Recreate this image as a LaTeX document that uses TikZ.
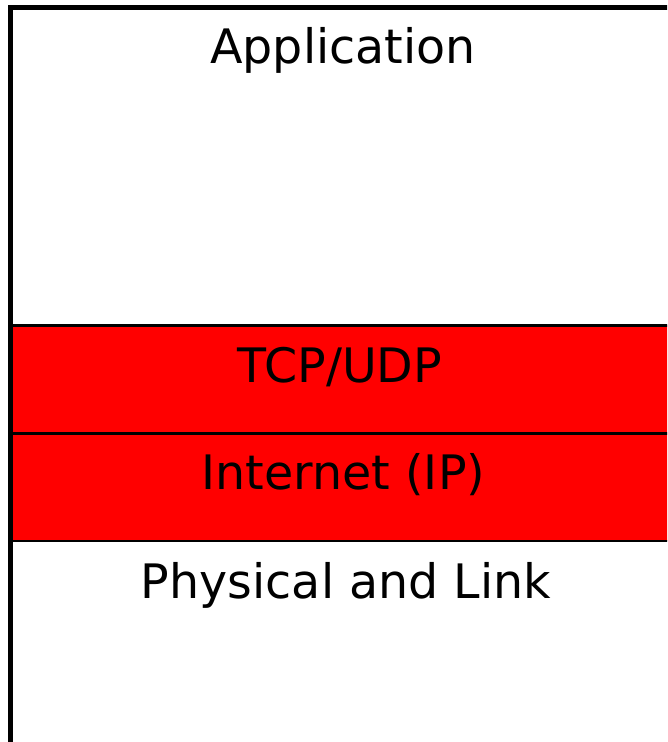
\documentclass[tikz,border=0pt]{standalone}
\usepackage{fontspec}
\setmainfont{DejaVu Sans}
\begin{document}
\begin{tikzpicture}[x=1pt,y=-1pt,
  layertext/.style={anchor=base,inner sep=0pt,font=\fontsize{47.5}{52}\selectfont},
  frameline/.style={line width=5.3pt,black},
  divider/.style={line width=2.5pt,black}]
  \useasboundingbox (0,0) rectangle (667,742);
  \clip (0,0) rectangle (667,742);
  % transport and internet layers
  \fill[red] (10,325.3) rectangle (700,541);
  \draw[divider] (10,325.3) -- (700,325.3);
  \draw[divider] (10,433.5) -- (700,433.5);
  \draw[divider] (10,541) -- (700,541);
  % outer frame
  \draw[frameline] (10.7,760) -- (10.7,7.3) -- (700,7.3);
  % layer names
  \node[layertext] (app) at (343,63) {Application};
  \node[layertext] (tcp) at (340,382) {TCP/UDP};
  \node[layertext] (ip) at (343.5,489) {Internet (IP)};
  \node[layertext] (phy) at (346,598) {Physical and Link};
\end{tikzpicture}
\end{document}
